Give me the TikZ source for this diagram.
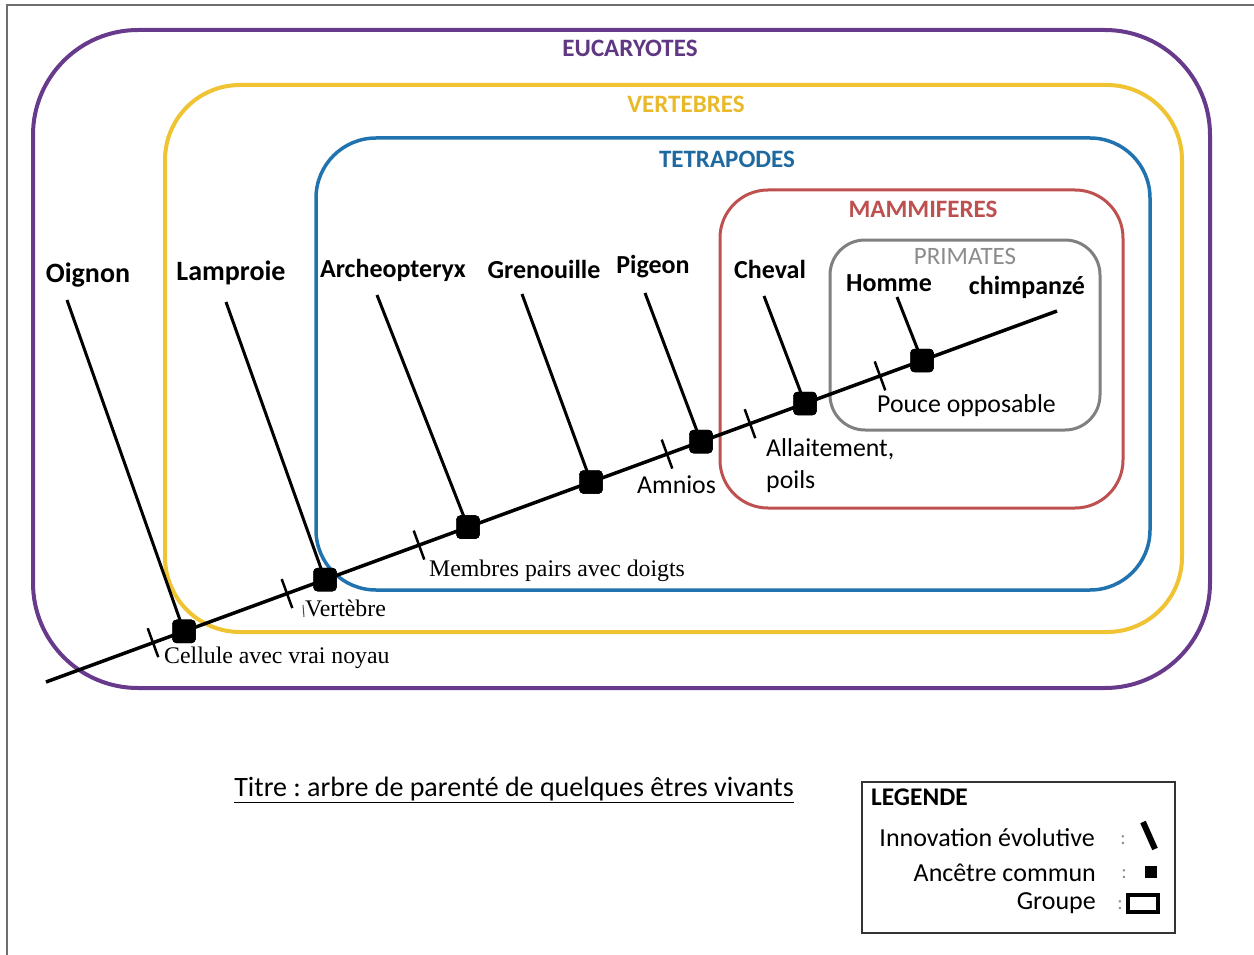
\documentclass[tikz,border=0pt]{standalone}
\usepackage{fontspec}
\setmainfont{Carlito}
\newfontfamily\serifx{Liberation Serif}
\usetikzlibrary{calc}
\frenchspacing
\definecolor{cpurple}{RGB}{104,58,140}
\definecolor{tpurple}{RGB}{95,55,130}
\definecolor{cyellow}{RGB}{240,195,50}
\definecolor{tyellow}{RGB}{232,185,40}
\definecolor{cblue}{RGB}{33,115,175}
\definecolor{tblue}{RGB}{30,105,160}
\definecolor{cred}{RGB}{190,80,80}
\definecolor{cgray}{RGB}{128,128,128}
\definecolor{tgray}{RGB}{140,140,140}
\definecolor{framegray}{RGB}{110,110,110}
\begin{document}
\frenchspacing
\begin{tikzpicture}[x=1pt,y=-1pt,
  grptitle/.style={font=\fontsize{25}{29}\selectfont\bfseries, inner sep=0pt},
  species/.style={font=\fontsize{26}{30}\selectfont\bfseries, inner sep=0pt},
  innov/.style={font=\fontsize{25.8}{30}\selectfont, inner sep=0pt, anchor=west},
  innovserif/.style={font=\serifx\fontsize{23.8}{27}\selectfont, inner sep=0pt, anchor=west},
  anc/.style={fill=black, draw=black, minimum size=23pt, inner sep=0pt, rounded corners=4pt},
  branch/.style={line width=3pt, black},
  mainline/.style={line width=3.5pt, black},
  tickmark/.style={line width=2.5pt, black},
  legtxt/.style={font=\fontsize{26}{30}\selectfont, inner sep=0pt, anchor=east},
  colon/.style={font=\fontsize{20}{24}\selectfont, text=tgray, inner sep=0pt}]
\useasboundingbox (0,0) rectangle (1254,955);
\fill[white] (0,0) rectangle (1254,955);
\draw[framegray, line width=2pt] (7,955) -- (7,5) -- (1254,5);

% groups
\draw[cpurple, line width=4pt, rounded corners=105pt] (33,30) rectangle (1210,688);
\draw[cyellow, line width=4pt, rounded corners=75pt] (165,85) rectangle (1182,632);
\draw[cblue, line width=3.5pt, rounded corners=60pt] (316,138) rectangle (1150,590);
\draw[cred, line width=3pt, rounded corners=48pt] (720,190) rectangle (1123,508);
\draw[cgray, line width=3pt, rounded corners=35pt] (830,240) rectangle (1100,430);

\node[grptitle, text=tpurple] (geu) at (630,48) {EUCARYOTES};
\node[grptitle, text=tyellow] (gve) at (686,104) {VERTEBRES};
\node[grptitle, text=tblue] (gte) at (727,159) {TETRAPODES};
\node[grptitle, text=cred] (gma) at (923,209) {MAMMIFERES};
\node[grptitle, text=tgray, font=\fontsize{25}{29}\selectfont] (gpr) at (965,256) {PRIMATES};

% main line
\coordinate (s) at (46,682);
\coordinate (e) at (1057,311);
\draw[mainline] (s) -- (e);

% branch tops
\coordinate (tOig) at (67,300);
\coordinate (tLam) at (226,302);
\coordinate (tArc) at (377,295);
\coordinate (tGre) at (522,294);
\coordinate (tPig) at (645,293);
\coordinate (tChe) at (764,296);
\coordinate (tHom) at (897,297);

% ancestors
\node[anc] (a1) at (184,631.4) {};
\node[anc] (a2) at (325,579.6) {};
\node[anc] (a3) at (468,527.1) {};
\node[anc] (a4) at (591,482.0) {};
\node[anc] (a5) at (701,441.6) {};
\node[anc] (a6) at (805,403.5) {};
\node[anc] (a7) at (922,360.5) {};

\draw[branch] (tOig) -- (a1.center);
\draw[branch] (tLam) -- (a2.center);
\draw[branch] (tArc) -- (a3.center);
\draw[branch] (tGre) -- (a4.center);
\draw[branch] (tPig) -- (a5.center);
\draw[branch] (tChe) -- (a6.center);
\draw[branch] (tHom) -- (a7.center);
\foreach \a in {a1,a2,a3,a4,a5,a6,a7} \node[anc] at (\a) {};

% species labels
\node[species, font=\fontsize{28}{32}\selectfont\bfseries] (lOig) at (88,275) {Oignon};
\node[species, font=\fontsize{28}{32}\selectfont\bfseries] (lLam) at (231,273) {Lamproie};
\node[species] (lArc) at (393,270) {Archeopteryx};
\node[species] (lGre) at (544,269) {Grenouille};
\node[species] (lPig) at (653,267) {Pigeon};
\node[species] (lChe) at (770,269) {Cheval};
\node[species] (lHom) at (889,283) {Homme};
\node[species] (lChi) at (1027,287) {chimpanzé};

% innovation ticks
\coordinate (i1) at (153,642.7);
\coordinate (i2) at (287,593.6);
\coordinate (i3) at (419,545.1);
\coordinate (i4) at (667,454.1);
\coordinate (i5) at (750,423.7);
\coordinate (i6) at (880,375.9);
\foreach \i in {i1,i2,i3,i4,i5,i6}
  \draw[tickmark] ($(\i)+(-5.3,-14.5)$) -- ($(\i)+(5.3,14.5)$);
\draw[line width=1pt, black!70] (303,605) -- (304,617);

% innovation labels
\node[innovserif] (nCel) at (164,658) {Cellule avec vrai noyau};
\node[innovserif] (nVer) at (305,608) {Vertèbre};
\node[innovserif] (nMem) at (429,571) {Membres pairs avec doigts};
\node[innov] (nAmn) at (637,485) {Amnios};
\node[innov, align=left, font=\fontsize{25.8}{32}\selectfont] (nAll) at (766,466) {Allaitement,\\poils};
\node[innov] (nPou) at (877,406) {Pouce opposable};

% title
\node[font=\fontsize{28}{32}\selectfont, inner sep=0pt] (title) at (514,790) {\underline{Titre : arbre de parenté de quelques êtres vivants}};

% legend
\draw[black!80, line width=1.5pt] (862,782) rectangle (1175,933);
\node[font=\fontsize{25.4}{29}\selectfont\bfseries, inner sep=0pt, anchor=west] (lg) at (871,797) {LEGENDE};
\node[legtxt] (l1) at (1095,838) {Innovation évolutive};
\node[legtxt] (l2) at (1096,873) {Ancêtre commun};
\node[legtxt] (l3) at (1096,903) {Groupe};
\node[colon] (c1) at (1123,840) {:};
\node[colon] (c2) at (1124,874) {:};
\node[colon] (c3) at (1120,905) {:};
\draw[line width=6pt, black] (1143,822) -- (1155,849);
\node[fill=black, minimum size=12pt, inner sep=0pt] (sq) at (1151,872) {};
\draw[line width=3.5pt, black] (1128,895) rectangle (1158,912);
\end{tikzpicture}
\end{document}
